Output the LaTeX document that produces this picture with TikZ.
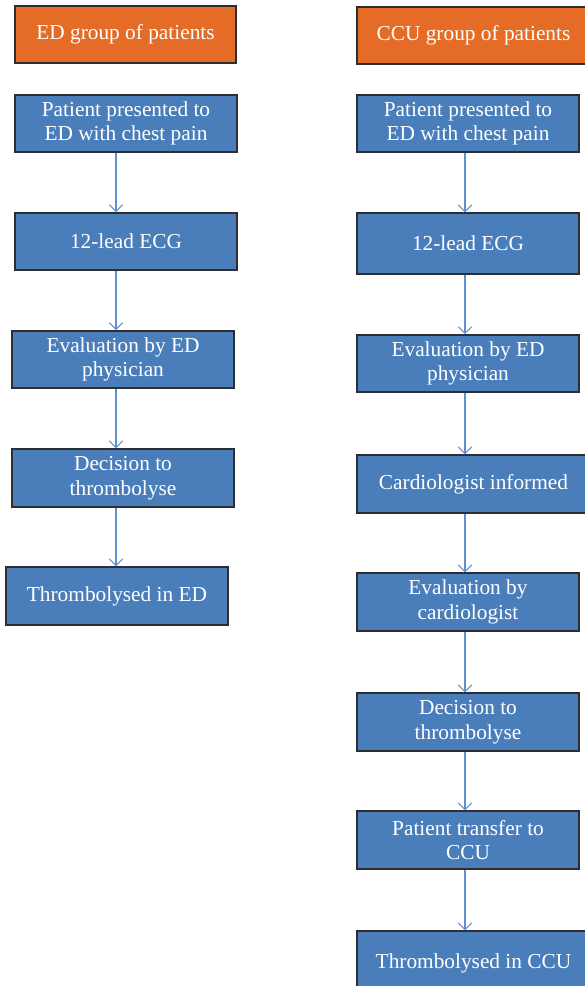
\documentclass[tikz,border=0pt]{standalone}
\usepackage{fontspec}
\setmainfont{Liberation Serif}
\usetikzlibrary{arrows.meta}

\definecolor{grporange}{RGB}{228,108,38}
\definecolor{stepblue}{RGB}{74,126,187}
\definecolor{arrowblue}{RGB}{95,145,208}
\definecolor{boxedge}{RGB}{45,45,50}

\tikzset{
  flowbox/.style={draw=boxedge, line width=1.1pt, fill=stepblue, text=white,
    inner sep=0pt, minimum width=166.5pt, minimum height=43pt, align=center,
    font=\fontsize{16}{18.5}\selectfont},
  groupbox/.style={flowbox, fill=grporange},
  flowarrow/.style={arrowblue, line width=0.8pt,
    -{Straight Barb[length=5pt,width=10pt]}}
}

\begin{document}
\begin{tikzpicture}[x=0.75pt,y=-0.75pt]
% Page is 585 x 986 px, one unit is one pixel
\useasboundingbox (0,0) rectangle (585,986);
\clip (0,0) rectangle (585,986);
% Vertical lines that carry the arrows
\coordinate (ax) at (116,0);
\coordinate (bx) at (465,0);
% Left column: ED group
\node [groupbox, minimum width=165.75pt, minimum height=42.75pt] (edgrp) at (125.5,34.5) {ED group of patients};
\node [flowbox] (ed1) at (126,123.5) {Patient presented to\\ED with chest pain};
\node [flowbox] (ed2) at (126,241.5) {12-lead ECG};
\node [flowbox] (ed3) at (123,359.5) {Evaluation by ED\\physician};
\node [flowbox, minimum height=43.5pt] (ed4) at (123,478) {Decision to\\thrombolyse};
\node [flowbox, minimum height=43.5pt] (ed5) at (117,596) {Thrombolysed in ED};
% Right column: CCU group
\node [groupbox, minimum width=174.75pt, minimum height=42.75pt] (ccugrp) at (473.5,35.5) {CCU group of patients};
\node [flowbox] (ccu1) at (468,123.5) {Patient presented to\\ED with chest pain};
\node [flowbox, minimum height=45.75pt] (ccu2) at (468,243.5) {12-lead ECG};
\node [flowbox] (ccu3) at (468,363.5) {Evaluation by ED\\physician};
\node [flowbox, minimum width=174.75pt, minimum height=43.5pt] (ccu4) at (473.5,484) {Cardiologist informed};
\node [flowbox, minimum height=43.5pt] (ccu5) at (468,602) {Evaluation by\\cardiologist};
\node [flowbox, minimum height=43.5pt] (ccu6) at (468,722) {Decision to\\thrombolyse};
\node [flowbox, minimum height=43.5pt] (ccu7) at (468,840) {Patient transfer to\\CCU};
\node [flowbox, minimum width=174.75pt, minimum height=48pt] (ccu8) at (473.5,963) {Thrombolysed in CCU};
% Arrows, left column
\foreach \a/\b in {ed1/ed2, ed2/ed3, ed3/ed4, ed4/ed5}
  \draw [flowarrow] (\a.south -| ax) -- (\b.north -| ax);
% Arrows, right column
\foreach \a/\b in {ccu1/ccu2, ccu2/ccu3, ccu3/ccu4, ccu4/ccu5, ccu5/ccu6, ccu6/ccu7, ccu7/ccu8}
  \draw [flowarrow] (\a.south -| bx) -- (\b.north -| bx);
\end{tikzpicture}
\end{document}
